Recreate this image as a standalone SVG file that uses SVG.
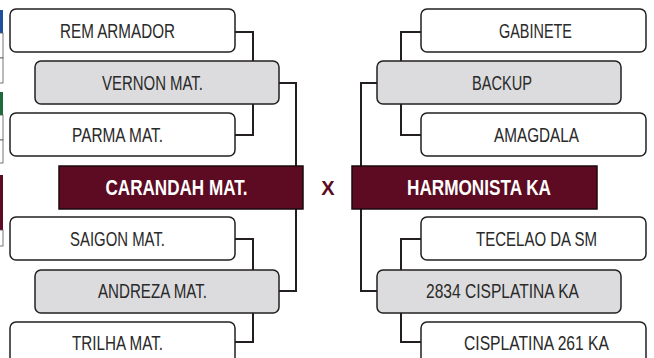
<svg xmlns="http://www.w3.org/2000/svg" width="654" height="358" viewBox="0 0 654 358">
<style>
.box{fill:#fff;stroke:#231f20;stroke-width:1.5}
.win{fill:#dcdcde;stroke:#231f20;stroke-width:1.5}
.main{fill:#5c0b22;stroke:#1a0a0e;stroke-width:1.5}
.t{font-family:"Liberation Sans",Arial,sans-serif;font-size:19.5px;fill:#2a2a2a;text-anchor:middle}
.tm{font-family:"Liberation Sans",Arial,sans-serif;font-size:22px;font-weight:bold;fill:#fff;text-anchor:middle}
.conn{fill:none;stroke:#231f20;stroke-width:2}
.edge{stroke:#555;stroke-width:0.8}
</style>
<g id="edge-slivers">
<rect x="-2" y="10" width="5" height="23" fill="#1f4f9c"/>
<rect x="-2" y="33" width="5" height="25" fill="#fff" class="edge"/>
<rect x="-2" y="58" width="5" height="25" fill="#fff" class="edge"/>
<rect x="-2" y="92" width="5" height="23" fill="#1d6b3c"/>
<rect x="-2" y="115" width="5" height="25" fill="#fff" class="edge"/>
<rect x="-2" y="140" width="5" height="23" fill="#fff" class="edge"/>
<rect x="-2" y="175" width="5" height="55" fill="#5c0b22"/>
<rect x="-2" y="230" width="5" height="16" fill="#fff" class="edge"/>
</g>
<g id="connectors">
<polyline class="conn" points="235,32 253,32 253,135 235,135"/>
<polyline class="conn" points="279,83 296,83 296,166"/>
<polyline class="conn" points="235,239 253,239 253,342 235,342"/>
<polyline class="conn" points="279,291 296,291 296,209"/>
<polyline class="conn" points="421,32 401,32 401,135 421,135"/>
<polyline class="conn" points="377,83 361,83 361,166"/>
<polyline class="conn" points="421,239 401,239 401,342 421,342"/>
<polyline class="conn" points="377,291 361,291 361,209"/>
</g>
<g id="rem-armador"><rect class="box" x="10" y="9" width="225" height="43" rx="6"/><text class="t" x="117.5" y="38" textLength="115" lengthAdjust="spacingAndGlyphs">REM ARMADOR</text></g>
<g id="vernon-mat"><rect class="win" x="35" y="61" width="244" height="43" rx="6"/><text class="t" x="152.5" y="90" textLength="101" lengthAdjust="spacingAndGlyphs">VERNON MAT.</text></g>
<g id="parma-mat"><rect class="box" x="10" y="113" width="225" height="43" rx="6"/><text class="t" x="117.5" y="142" textLength="91" lengthAdjust="spacingAndGlyphs">PARMA MAT.</text></g>
<g id="carandah-mat"><rect class="main" x="59" y="166" width="244" height="43"/><text class="tm" x="176.5" y="195" textLength="142" lengthAdjust="spacingAndGlyphs">CARANDAH MAT.</text></g>
<g id="saigon-mat"><rect class="box" x="10" y="217" width="225" height="43" rx="6"/><text class="t" x="117.5" y="246" textLength="95" lengthAdjust="spacingAndGlyphs">SAIGON MAT.</text></g>
<g id="andreza-mat"><rect class="win" x="35" y="270" width="244" height="43" rx="6"/><text class="t" x="152.5" y="298" textLength="109" lengthAdjust="spacingAndGlyphs">ANDREZA MAT.</text></g>
<g id="trilha-mat"><rect class="box" x="10" y="322" width="225" height="43" rx="6"/><text class="t" x="117.5" y="350" textLength="91" lengthAdjust="spacingAndGlyphs">TRILHA MAT.</text></g>
<g id="vs"><text x="328" y="195" style="font-family:'Liberation Sans',Arial,sans-serif;font-size:20px;font-weight:bold;fill:#5c0b22;text-anchor:middle">X</text></g>
<g id="gabinete"><rect class="box" x="421" y="9" width="225" height="43" rx="6"/><text class="t" x="535.5" y="38" textLength="73" lengthAdjust="spacingAndGlyphs">GABINETE</text></g>
<g id="backup"><rect class="win" x="377" y="61" width="244" height="43" rx="6"/><text class="t" x="502" y="90" textLength="60" lengthAdjust="spacingAndGlyphs">BACKUP</text></g>
<g id="amagdala"><rect class="box" x="421" y="113" width="225" height="43" rx="6"/><text class="t" x="536.5" y="142" textLength="85" lengthAdjust="spacingAndGlyphs">AMAGDALA</text></g>
<g id="harmonista-ka"><rect class="main" x="352" y="166" width="245" height="43"/><text class="tm" x="479" y="195" textLength="144" lengthAdjust="spacingAndGlyphs">HARMONISTA KA</text></g>
<g id="tecelao-da-sm"><rect class="box" x="421" y="217" width="225" height="43" rx="6"/><text class="t" x="536.5" y="246" textLength="121" lengthAdjust="spacingAndGlyphs">TECELAO DA SM</text></g>
<g id="cisplatina-2834"><rect class="win" x="377" y="270" width="244" height="43" rx="6"/><text class="t" x="502.5" y="298" textLength="153" lengthAdjust="spacingAndGlyphs">2834 CISPLATINA KA</text></g>
<g id="cisplatina-261"><rect class="box" x="421" y="322" width="225" height="43" rx="6"/><text class="t" x="536.5" y="350" textLength="145" lengthAdjust="spacingAndGlyphs">CISPLATINA 261 KA</text></g>
</svg>
